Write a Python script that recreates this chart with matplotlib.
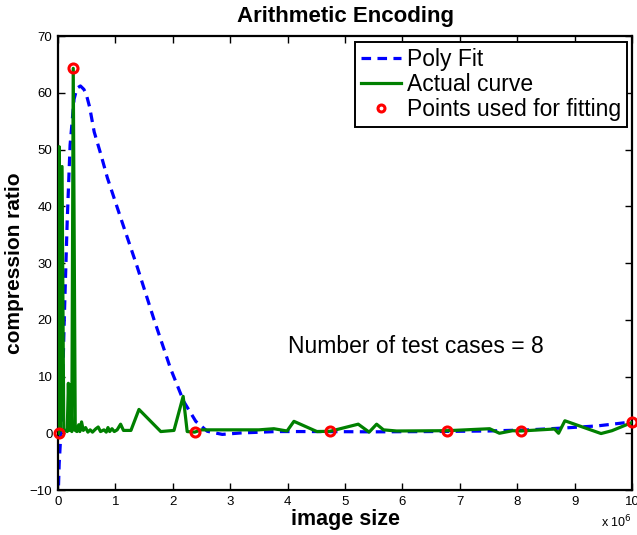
import matplotlib
matplotlib.use("Agg")
import matplotlib.pyplot as plt

plt.rcParams['font.family'] = ['Liberation Sans', 'DejaVu Sans']

# actual compression ratio curve (x in units of 1e6)
actual_x = [0.01, 0.02, 0.04, 0.07, 0.10, 0.13, 0.16, 0.18, 0.20, 0.22, 0.24, 0.265,
            0.30, 0.33, 0.36, 0.38, 0.41, 0.44, 0.48, 0.52, 0.56, 0.60, 0.66, 0.70,
            0.74, 0.80, 0.84, 0.87, 0.90, 0.94, 0.98, 1.03, 1.09, 1.14, 1.27, 1.41,
            1.79, 2.02, 2.18, 2.25, 2.38, 2.50, 3.00, 3.50, 3.76, 3.99, 4.11, 4.51,
            4.74, 5.23, 5.42, 5.55, 5.67, 5.90, 6.78, 7.52, 7.69, 7.92, 8.06, 8.65,
            8.72, 8.83, 9.46, 9.65, 10.0]
actual_y = [0.0, 50.5, 0.5, 47.0, 0.3, 0.5, 0.3, 8.8, 0.5, 8.5, 0.3, 64.3,
            0.5, 0.3, 1.5, 0.3, 2.0, 0.5, 1.0, 0.2, 0.6, 0.2, 0.8, 1.1,
            0.3, 0.6, 0.2, 1.0, 0.3, 0.8, 0.3, 0.6, 1.6, 0.5, 0.5, 4.2,
            0.3, 0.5, 6.5, 0.3, 0.2, 0.6, 0.6, 0.6, 0.8, 0.4, 2.1, 0.3,
            0.35, 1.6, 0.2, 1.6, 0.6, 0.4, 0.45, 0.8, 0.0, 0.45, 0.4, 0.75,
            0.0, 2.2, -0.05, 0.45, 1.9]

# polynomial fit curve
fit_x = [0.0, 0.02, 0.064, 0.11, 0.16, 0.21, 0.28, 0.33, 0.39, 0.45, 0.49, 0.55,
         0.63, 0.75, 0.86, 1.09, 1.38, 1.67, 1.96, 2.19, 2.40, 2.60, 2.86, 3.18,
         3.80, 4.50, 5.50, 6.50, 7.50, 8.20, 8.85, 9.40, 10.0]
fit_y = [-12.0, -5.4, 2.7, 20.6, 37.4, 50.8, 58.9, 60.8, 61.2, 60.6, 59.8, 57.5,
         53.1, 49.0, 45.0, 38.0, 29.3, 20.1, 11.4, 5.6, 2.1, 0.35, -0.2, 0.05,
         0.3, 0.3, 0.25, 0.3, 0.4, 0.6, 0.95, 1.3, 2.0]

# points used for fitting
pts_x = [0.02, 0.265, 2.38, 4.74, 6.78, 8.06, 10.0]
pts_y = [0.0, 64.3, 0.2, 0.35, 0.45, 0.4, 1.9]

fig = plt.figure(figsize=(6.37, 5.35), dpi=100)
ax = fig.add_axes([0.0911, 0.0841, 0.9011, 0.8486])

ax.plot(fit_x, fit_y, color=(0, 0, 1), lw=2.3, linestyle=(0, (3, 2)), label='Poly Fit', zorder=2)
ax.plot(actual_x, actual_y, color=(0, 0.5, 0), lw=2.3, label='Actual curve', zorder=3)
ax.plot(pts_x, pts_y, 'o', markersize=6.5, markerfacecolor='none', markeredgecolor=(1, 0, 0),
        markeredgewidth=2.2, label='Points used for fitting', zorder=4, clip_on=False)

ax.set_xlim(0, 10)
ax.set_ylim(-10, 70)
ax.set_xticks(range(0, 11))
ax.set_yticks(range(-10, 71, 10))
ax.set_yticklabels(['\u221210'] + [str(v) for v in range(0, 71, 10)])
ax.tick_params(direction='in', length=5, width=1, top=True, right=True, labelsize=9.5, pad=4)
for s in ax.spines.values():
    s.set_linewidth(1.6)

ax.set_title('Arithmetic Encoding', fontsize=16, fontweight='bold', pad=10)
ax.set_xlabel('image size', fontsize=15.5, fontweight='bold')
ax.set_ylabel('compression ratio', fontsize=15, fontweight='bold')
ax.xaxis.set_label_coords(0.5, -0.042)
ax.yaxis.set_label_coords(-0.059, 0.5)
ax.text(1.0, -0.07, 'x 10$^6$', transform=ax.transAxes, fontsize=9, ha='right', va='center')

ax.text(4.0, 15.2, 'Number of test cases = 8', fontsize=16.5, va='center', ha='left')

leg = ax.legend(loc='upper right', bbox_to_anchor=(0.991, 0.987), borderaxespad=0,
                fontsize=16.5, numpoints=1, handlelength=1.75, labelspacing=0.1,
                fancybox=False, framealpha=1, edgecolor='black', borderpad=0.25,
                handletextpad=0.25)
leg.get_frame().set_linewidth(1.4)
leg.legend_handles[2].set_markersize(5)

fig.savefig('out.png', dpi=100)
